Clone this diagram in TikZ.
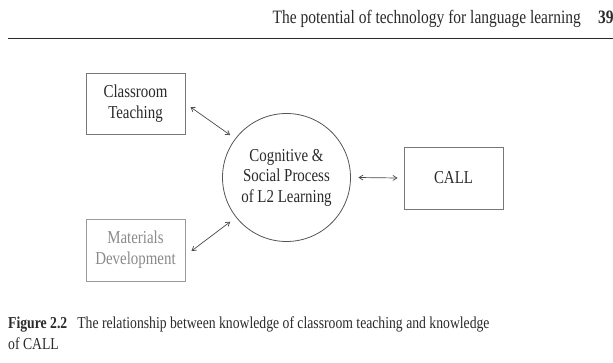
\documentclass[tikz,border=0pt]{standalone}
\usepackage{fontspec}
\setmainfont{Liberation Serif}[FakeStretch=0.82]
\usetikzlibrary{calc,arrows.meta}
\definecolor{inkdark}{HTML}{2A2A2A}
\definecolor{boxline}{HTML}{777777}
\definecolor{greytext}{HTML}{8A8A8A}
\definecolor{greyline}{HTML}{9A9A9A}
\begin{document}
\begin{tikzpicture}[x=1pt,y=1pt,
  txt/.style={font=\fontsize{16.7}{21}\selectfont, text=inkdark, inner sep=0pt},
  rbox/.style={draw=boxline, line width=0.9pt, minimum width=99pt, minimum height=61pt, inner sep=0pt, align=center, font=\fontsize{18.2}{21}\selectfont, text=inkdark},
  cbox/.style={draw=inkdark!80, line width=0.8pt, circle, minimum size=128pt, inner sep=0pt, align=center, font=\fontsize{18.2}{20.5}\selectfont, text=inkdark},
  arr/.style={{Straight Barb[length=4pt,width=5pt]}-{Straight Barb[length=4pt,width=5pt]}, line width=0.7pt, draw=inkdark!85}]
\useasboundingbox (0,0) rectangle (613,362);
% header
\node[txt, anchor=base east, font=\fontsize{18.9}{21}\selectfont] (head) at (581,338) {The potential of technology for language learning};
\node[txt, anchor=base west, font=\fontsize{18.9}{21}\selectfont\bfseries] (pg) at (598,338) {39};
\coordinate (ruleL) at (8,323.5);
\coordinate (ruleR) at (613,323.5);
\draw[line width=1.3pt, draw=inkdark] (ruleL) -- (ruleR);
% nodes
\node[rbox] (ct) at (135.5,258.5) {Classroom\\Teaching};
\node[rbox, draw=greyline, text=greytext, minimum height=62pt] (md) at (135.5,112) {Materials\\Development};
\node[rbox, minimum height=62pt] (call) at (453.5,184) {CALL};
\node[cbox] (cog) at (286.5,184.5) {Cognitive \&\\Social Process\\of L2 Learning};
% connectors
\draw[arr] ([xshift=5pt,yshift=-3.5pt]ct.east) -- ($(cog.center)+(143:70.5)$);
\draw[arr] ([xshift=6pt,yshift=-1pt]md.east) -- ($(cog.center)+(218.2:71.5)$);
\draw[arr] ([xshift=7.5pt]cog.east) -- ([xshift=-6pt]call.west);
% caption
\node[txt, anchor=base west] (cap1) at (8,34) {\textbf{Figure 2.2}\hspace{0.6em}The relationship between knowledge of classroom teaching and knowledge};
\node[txt, anchor=base west] (cap2) at (8,13) {of CALL};
\end{tikzpicture}
\end{document}
